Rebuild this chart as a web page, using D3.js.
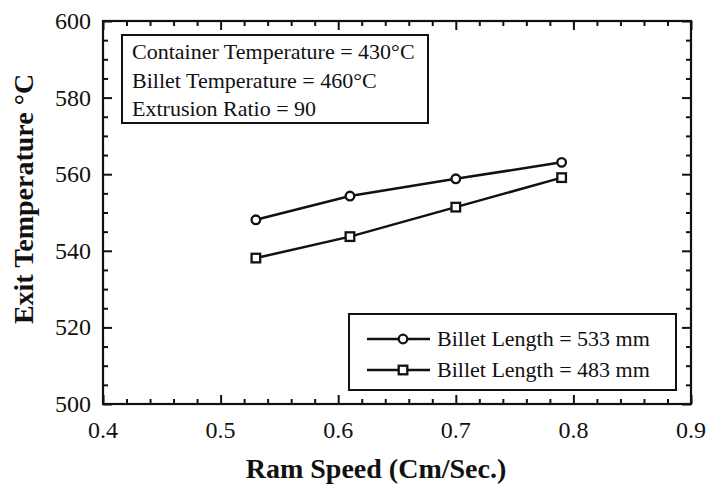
<!DOCTYPE html>
<html>
<head>
<meta charset="utf-8">
<script src="https://cdn.jsdelivr.net/npm/d3@7"></script>
<style>
  body { margin: 0; background: #fff; }
  text { font-family: "Liberation Serif", "Times New Roman", serif; fill: #111; }
</style>
</head>
<body>
<div id="chart"></div>
<script>
// values
const ramSpeed = [0.53, 0.61, 0.70, 0.79];
const exit533 = [548.1, 554.3, 558.8, 563.1];
const exit483 = [538.1, 543.7, 551.4, 559.1];
const seriesNames = ["Billet Length = 533 mm", "Billet Length = 483 mm"];
const xTicks = [0.4, 0.5, 0.6, 0.7, 0.8, 0.9];
const yTicks = [500, 520, 540, 560, 580, 600];
const infoLines = ["Container Temperature = 430°C", "Billet Temperature = 460°C", "Extrusion Ratio = 90"];

const W = 708, H = 487;
const margin = { top: 21, right: 17, bottom: 83, left: 103 };
const width = W - margin.left - margin.right;
const height = H - margin.top - margin.bottom;

const svg = d3.select("#chart").append("svg")
    .attr("width", W)
    .attr("height", H);

const g = svg.append("g")
    .attr("transform", "translate(" + margin.left + "," + margin.top + ")");

const x = d3.scaleLinear().domain([0.4, 0.9]).range([0, width]);
const y = d3.scaleLinear().domain([500, 600]).range([height, 0]);

const xMinor = d3.range(0.42, 0.9, 0.02).filter(v => Math.abs(v * 10 - Math.round(v * 10)) > 0.01);
const yMinor = d3.range(505, 600, 5).filter(v => v % 20 !== 0);

// ticks point inward on all four sides
function addAxis(axisFn, scale, ticks, minor, transform) {
    const major = g.append("g").attr("transform", transform)
        .call(axisFn(scale).tickValues(ticks).tickSize(-9).tickFormat(""));
    const mn = g.append("g").attr("transform", transform)
        .call(axisFn(scale).tickValues(minor).tickSize(-5).tickFormat(""));
    [major, mn].forEach(a => {
        a.select(".domain").remove();
        a.selectAll("line").attr("stroke", "#111").attr("stroke-width", 2);
    });
}
addAxis(d3.axisBottom, x, xTicks, xMinor, "translate(0," + height + ")");
addAxis(d3.axisTop, x, xTicks, xMinor, "translate(0,0)");
addAxis(d3.axisLeft, y, yTicks, yMinor, "translate(0,0)");
addAxis(d3.axisRight, y, yTicks, yMinor, "translate(" + width + ",0)");

g.append("rect")
    .attr("width", width)
    .attr("height", height)
    .attr("fill", "none")
    .attr("stroke", "#111")
    .attr("stroke-width", 2.2);

// tick labels
g.selectAll(".xlab")
    .data(xTicks)
    .enter()
    .append("text")
    .attr("x", d => x(d))
    .attr("y", height + 34)
    .attr("text-anchor", "middle")
    .style("font-size", "24px")
    .text(d => d3.format(".1f")(d));

g.selectAll(".ylab")
    .data(yTicks)
    .enter()
    .append("text")
    .attr("x", -12)
    .attr("y", d => y(d))
    .attr("dy", "0.33em")
    .attr("text-anchor", "end")
    .style("font-size", "24px")
    .text(d => d);

// axis titles
svg.append("text")
    .attr("x", 376)
    .attr("y", 478)
    .attr("text-anchor", "middle")
    .style("font-size", "28px")
    .style("font-weight", "bold")
    .text("Ram Speed (Cm/Sec.)");

svg.append("text")
    .attr("transform", "translate(33,199) rotate(-90)")
    .attr("text-anchor", "middle")
    .style("font-size", "28px")
    .style("font-weight", "bold")
    .text("Exit Temperature °C");

// series
const line = d3.line().x(d => x(d[0])).y(d => y(d[1]));
const s533 = ramSpeed.map((v, i) => [v, exit533[i]]);
const s483 = ramSpeed.map((v, i) => [v, exit483[i]]);

[s533, s483].forEach(s => {
    g.append("path")
        .datum(s)
        .attr("d", line)
        .attr("fill", "none")
        .attr("stroke", "#111")
        .attr("stroke-width", 2.5);
});

g.selectAll(".circ")
    .data(s533)
    .enter()
    .append("circle")
    .attr("cx", d => x(d[0]))
    .attr("cy", d => y(d[1]))
    .attr("r", 4.3)
    .attr("fill", "#fff")
    .attr("stroke", "#111")
    .attr("stroke-width", 2.3);

g.selectAll(".sq")
    .data(s483)
    .enter()
    .append("rect")
    .attr("x", d => x(d[0]) - 4.3)
    .attr("y", d => y(d[1]) - 4.3)
    .attr("width", 8.6)
    .attr("height", 8.6)
    .attr("fill", "#fff")
    .attr("stroke", "#111")
    .attr("stroke-width", 2.3);

// info box
svg.append("rect")
    .attr("x", 122)
    .attr("y", 35)
    .attr("width", 306)
    .attr("height", 88)
    .attr("fill", "#fff")
    .attr("stroke", "#111")
    .attr("stroke-width", 2);

svg.selectAll(".info")
    .data(infoLines)
    .enter()
    .append("text")
    .attr("x", 132)
    .attr("y", (d, i) => 59 + i * 28.5)
    .style("font-size", "22px")
    .text(d => d);

// legend
svg.append("rect")
    .attr("x", 349)
    .attr("y", 314)
    .attr("width", 327)
    .attr("height", 76)
    .attr("fill", "#fff")
    .attr("stroke", "#111")
    .attr("stroke-width", 2);

const legRows = [339, 370];
legRows.forEach((ly, i) => {
    svg.append("line")
        .attr("x1", 367).attr("x2", 430)
        .attr("y1", ly).attr("y2", ly)
        .attr("stroke", "#111")
        .attr("stroke-width", 2.5);
    if (i === 0) {
        svg.append("circle")
            .attr("cx", 403).attr("cy", ly).attr("r", 4.3)
            .attr("fill", "#fff").attr("stroke", "#111").attr("stroke-width", 2.3);
    } else {
        svg.append("rect")
            .attr("x", 403 - 4.3).attr("y", ly - 4.3)
            .attr("width", 8.6).attr("height", 8.6)
            .attr("fill", "#fff").attr("stroke", "#111").attr("stroke-width", 2.3);
    }
    svg.append("text")
        .attr("x", 437)
        .attr("y", ly + 6.5)
        .style("font-size", "22px")
        .text(seriesNames[i]);
});
</script>
</body>
</html>
